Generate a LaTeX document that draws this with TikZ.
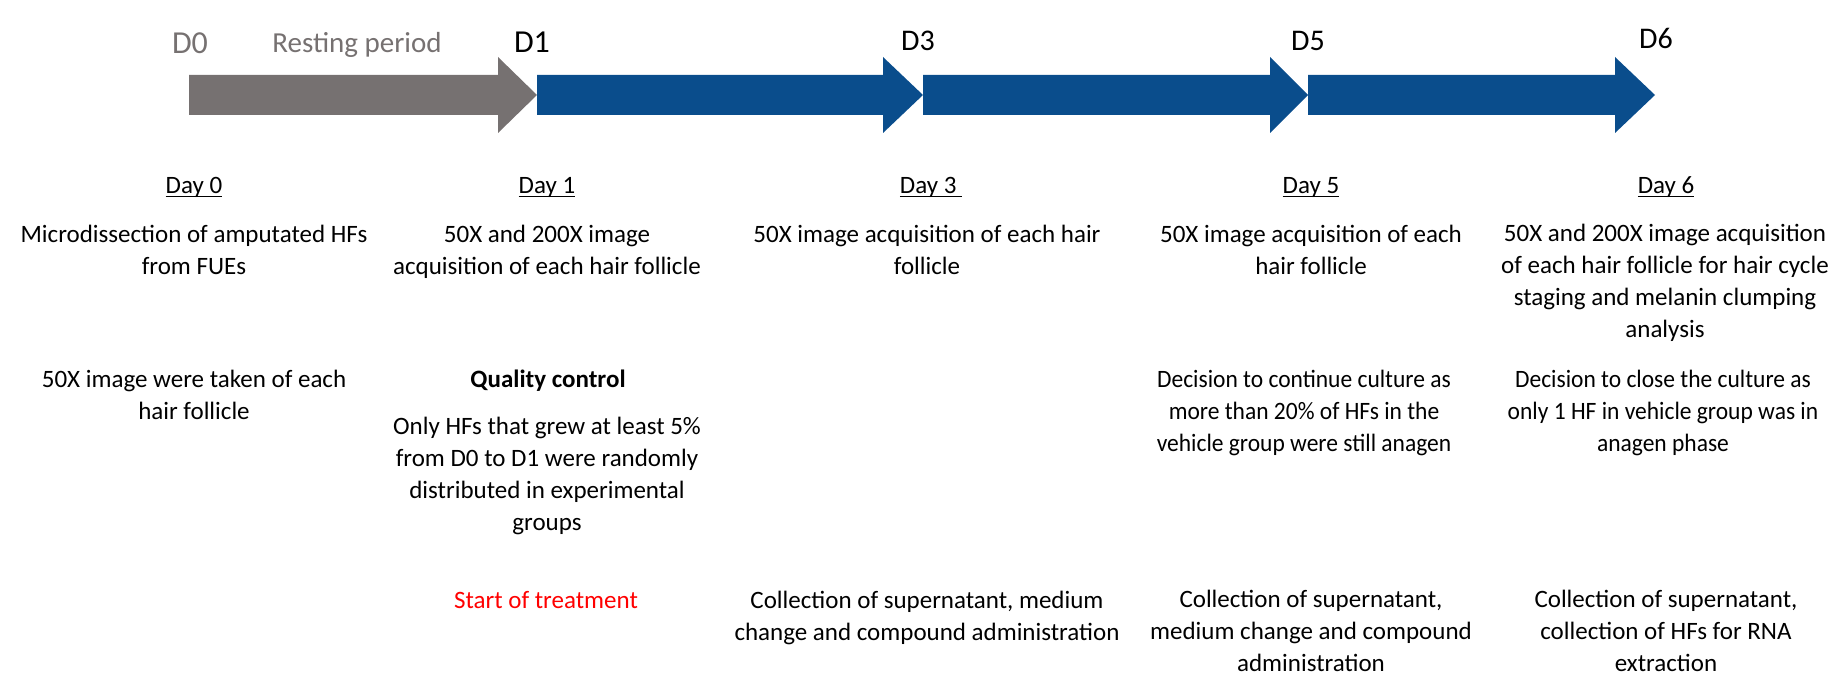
\documentclass[tikz,border=0pt]{standalone}
\usepackage{fontspec}
\setmainfont{Carlito}
\usepackage{tikz}
\usetikzlibrary{positioning}
\definecolor{cGray}{RGB}{118,113,113}
\definecolor{cBlue}{RGB}{10,77,140}
\definecolor{cRed}{RGB}{255,0,0}
\newcommand{\dayul}[1]{\setbox0\hbox{#1}\rlap{\rule[-2.2pt]{\wd0}{0.9pt}}\box0}

\begin{document}
\begin{tikzpicture}[x=0.5pt,y=0.5pt,
    txt/.style={anchor=base,inner sep=0pt,align=center,font=\fontsize{12.5}{15.85}\selectfont},
    narrow/.style={txt,xscale=0.94,transform shape},
    daylbl/.style={txt},
    dlbl/.style={anchor=base,inner sep=0pt,font=\fontsize{15}{17}\selectfont},
    garrow/.style={fill=cGray},
    barrow/.style={fill=cBlue}
  ]
  \useasboundingbox (0,0) rectangle (1832,-674);
  % timeline (anchor=base of a multi-line node is its last line)
  \fill[garrow] (189,-75) -- (498,-75) -- (498,-57) -- (537,-95) -- (498,-133) -- (498,-115) -- (189,-115) -- cycle;
  \foreach \xa/\xb/\xc in {537/883/923, 923/1270/1308, 1308/1615/1655}
    \fill[barrow] (\xa,-75) -- (\xb,-75) -- (\xb,-57) -- (\xc,-95) -- (\xb,-133) -- (\xb,-115) -- (\xa,-115) -- cycle;
  \node[dlbl,cGray,font=\fontsize{16}{18}\selectfont] (d0) at (190,-54) {D0};
  \node[dlbl,cGray,font=\fontsize{14.5}{17}\selectfont] (rest) at (357,-53) {Resting period};
  \node[dlbl,font=\fontsize{16}{18}\selectfont] (d1) at (532,-53) {D1};
  \node[dlbl] (d3) at (918,-51) {D3};
  \node[dlbl] (d5) at (1308,-51) {D5};
  \node[dlbl] (d6) at (1656,-49) {D6};
  % day headings
  \node[daylbl] (day0) at (194,-193) {\dayul{Day 0}};
  \node[daylbl] (day1) at (547,-193) {\dayul{Day 1}};
  \node[daylbl] (day3) at (931,-193) {\dayul{Day 3\ }};
  \node[daylbl] (day5) at (1311,-193) {\dayul{Day 5}};
  \node[daylbl] (day6) at (1666,-193) {\dayul{Day 6}};
  % image acquisition
  \node[txt] (img0) at (194,-274) {Microdissection of amputated HFs\\from FUEs};
  \node[txt] (img1) at (547,-274) {50X and 200X image\\acquisition of each hair follicle};
  \node[txt] (img3) at (927,-274) {50X image acquisition of each hair\\follicle};
  \node[txt] (img5) at (1311,-274) {50X image acquisition of each\\hair follicle};
  \node[txt] (img6) at (1665,-337) {50X and 200X image acquisition\\of each hair follicle for hair cycle\\staging and melanin clumping\\analysis};
  % decisions
  \node[txt] (dec0) at (194,-419) {50X image were taken of each\\hair follicle};
  \node[txt] (qc) at (548,-387) {\bfseries Quality control};
  \node[txt] (qcbody) at (547,-530) {Only HFs that grew at least 5\%\\from D0 to D1 were randomly\\distributed in experimental\\groups};
  \node[narrow] (dec5) at (1304,-451) {Decision to continue culture as\\more than 20\% of HFs in the\\vehicle group were still anagen};
  \node[narrow] (dec6) at (1663,-451) {Decision to close the culture as\\only 1 HF in vehicle group was in\\anagen phase};
  % medium handling
  \node[txt,cRed] (trt1) at (546,-608) {Start of treatment};
  \node[txt] (col3) at (927,-640) {Collection of supernatant, medium\\change and compound administration};
  \node[txt] (col5) at (1311,-671) {Collection of supernatant,\\medium change and compound\\administration};
  \node[txt] (col6) at (1666,-671) {Collection of supernatant,\\collection of HFs for RNA\\extraction};
\end{tikzpicture}
\end{document}
